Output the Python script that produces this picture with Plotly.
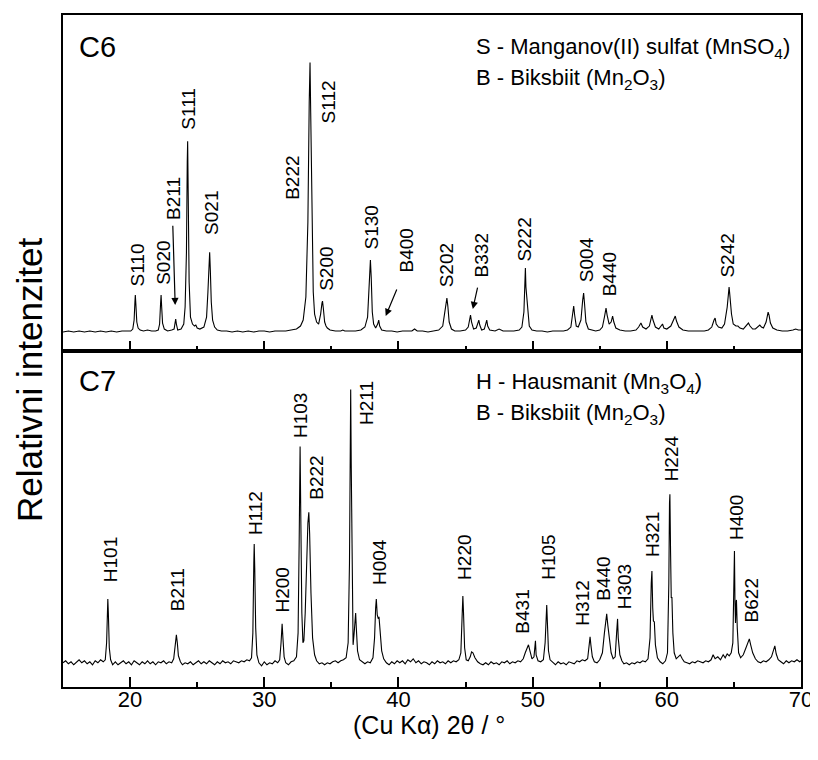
import plotly.graph_objects as go
from plotly.subplots import make_subplots

# ---------------- data (2theta in degrees, intensity in relative units above baseline) -------------
c6_profile = [
    (15.0, 0), (15.4, 1), (15.8, 0), (16.2, 1), (16.6, 0), (17.0, 1), (17.4, 0), (17.8, 1), (18.2, 0),
    (18.6, 1), (19.0, 0), (19.4, 1), (19.8, 1), (20.05, 1),
    (20.2, 3), (20.3, 12), (20.36, 30), (20.39, 37), (20.43, 28), (20.5, 10), (20.6, 4), (20.75, 2),
    (21.0, 1), (21.3, 2), (21.6, 1), (21.9, 1), (22.1, 2),
    (22.2, 8), (22.27, 28), (22.31, 37), (22.35, 26), (22.42, 9), (22.55, 3), (22.8, 1), (23.1, 2), (23.28, 3),
    (23.35, 9), (23.40, 13), (23.45, 8), (23.55, 2), (23.8, 3), (24.0, 8),
    (24.1, 25), (24.2, 80), (24.26, 170), (24.29, 191), (24.33, 140), (24.4, 50), (24.5, 15), (24.65, 8),
    (24.8, 6), (24.9, 7), (25.0, 4), (25.2, 3), (25.5, 5), (25.7, 15),
    (25.8, 40), (25.88, 72), (25.93, 80), (25.98, 62), (26.05, 30), (26.15, 12), (26.3, 5), (26.5, 2),
    (26.8, 1), (27.2, 1), (27.6, 0), (28.0, 1), (28.4, 0), (28.8, 1), (29.2, 0), (29.6, 1), (30.0, 1),
    (30.4, 0), (30.8, 1), (31.2, 1), (31.6, 1), (32.0, 2), (32.4, 3), (32.7, 6), (32.9, 12),
    (33.1, 35), (33.25, 110), (33.35, 230), (33.41, 270), (33.46, 220), (33.55, 110), (33.65, 40),
    (33.75, 18), (33.9, 10), (34.05, 8), (34.2, 18), (34.3, 29), (34.34, 31), (34.4, 24), (34.5, 10),
    (34.6, 6), (34.7, 4), (34.9, 2), (35.3, 1), (35.7, 1), (35.85, 2), (36.0, 1), (36.4, 1), (36.8, 1),
    (37.2, 2), (37.5, 5), (37.7, 15), (37.82, 45), (37.91, 72), (37.97, 55), (38.05, 20), (38.15, 8),
    (38.3, 4), (38.45, 8), (38.53, 12), (38.6, 6), (38.75, 2), (39.1, 1), (39.5, 1), (39.9, 0), (40.3, 1),
    (40.7, 1), (41.0, 1), (41.2, 3), (41.4, 1), (41.8, 1), (42.2, 0), (42.6, 1), (43.0, 2), (43.3, 6),
    (43.5, 22), (43.61, 34), (43.68, 26), (43.78, 10), (43.95, 3), (44.2, 1), (44.6, 1), (45.0, 2),
    (45.2, 5), (45.32, 14), (45.37, 17), (45.45, 10), (45.6, 3), (45.8, 4), (45.93, 10), (45.99, 12),
    (46.06, 7), (46.2, 2), (46.4, 3), (46.52, 9), (46.58, 12), (46.65, 6), (46.8, 2), (47.2, 1), (47.5, 3),
    (47.8, 1), (48.2, 1), (48.6, 1), (49.0, 2), (49.2, 5), (49.35, 20), (49.43, 55), (49.46, 64),
    (49.5, 45), (49.55, 35), (49.58, 37), (49.63, 20), (49.75, 6), (49.95, 2), (50.3, 1), (50.7, 1),
    (51.1, 0), (51.5, 1), (51.9, 1), (52.3, 1), (52.6, 2), (52.85, 5), (52.98, 18), (53.06, 26),
    (53.13, 17), (53.25, 6), (53.4, 5), (53.6, 12), (53.73, 32), (53.80, 39), (53.87, 28), (53.97, 10),
    (54.15, 3), (54.4, 2), (54.7, 1), (55.0, 2), (55.2, 5), (55.35, 15), (55.47, 24), (55.55, 17),
    (55.7, 8), (55.85, 10), (55.96, 16), (56.05, 10), (56.2, 4), (56.5, 2), (56.9, 1), (57.3, 1),
    (57.7, 2), (57.9, 5), (58.07, 9), (58.2, 5), (58.45, 3), (58.7, 6), (58.82, 14), (58.89, 17),
    (58.97, 12), (59.15, 5), (59.4, 3), (59.6, 6), (59.68, 8), (59.78, 4), (60.0, 3), (60.3, 6),
    (60.5, 12), (60.63, 16), (60.72, 11), (60.9, 5), (61.2, 2), (61.6, 1), (62.0, 1), (62.4, 1),
    (62.8, 1), (63.1, 2), (63.35, 5), (63.52, 12), (63.60, 14), (63.68, 8), (63.85, 5), (64.1, 4),
    (64.3, 8), (64.5, 25), (64.6, 42), (64.64, 45), (64.69, 38), (64.75, 28), (64.82, 18), (64.95, 8),
    (65.15, 6), (65.3, 6), (65.45, 4), (65.7, 3), (65.9, 6), (66.08, 9), (66.2, 6), (66.4, 3), (66.6, 3),
    (66.8, 5), (66.93, 7), (67.05, 5), (67.2, 4), (67.4, 10), (67.55, 20), (67.62, 17), (67.72, 9),
    (67.9, 4), (68.2, 2), (68.6, 1), (69.0, 1), (69.4, 2), (69.6, 3), (69.8, 2), (70.0, 2),
]

c7_profile = [
    (15.0, 0), (15.2, 2), (15.4, -1), (15.6, 1), (15.8, -2), (16.0, 1), (16.2, 3), (16.4, 0), (16.6, 2),
    (16.8, -1), (17.0, 1), (17.2, -2), (17.4, 2), (17.6, 0), (17.8, 3), (18.0, 1), (18.15, 3),
    (18.25, 20), (18.31, 55), (18.34, 64), (18.38, 50), (18.45, 15), (18.55, 3), (18.7, -2), (18.9, 1),
    (19.1, -2), (19.3, 0), (19.5, 2), (19.7, -1), (19.9, 1), (20.1, -2), (20.3, 2), (20.5, 0), (20.7, -2),
    (20.9, 1), (21.1, -1), (21.3, 2), (21.5, -1), (21.7, 1), (21.9, -2), (22.1, 1), (22.3, 0), (22.5, 2),
    (22.7, -1), (22.9, 1), (23.1, 0), (23.25, 4), (23.35, 15), (23.45, 28), (23.52, 20), (23.6, 7),
    (23.75, 1), (23.9, -2), (24.1, 0), (24.3, -1), (24.5, 1), (24.7, -2), (24.9, 0), (25.1, 2),
    (25.3, -1), (25.5, 1), (25.7, -1), (25.9, 2), (26.1, 0), (26.3, -2), (26.5, 1), (26.7, -1),
    (26.9, 2), (27.1, 0), (27.3, 1), (27.5, -1), (27.7, 2), (27.9, 1), (28.1, 0), (28.3, 2), (28.5, 1),
    (28.7, 3), (28.9, 2), (29.05, 5), (29.15, 30), (29.22, 100), (29.25, 119), (29.29, 95), (29.36, 35),
    (29.45, 8), (29.6, 0), (29.8, -3), (30.0, 1), (30.2, -2), (30.4, 0), (30.6, -1), (30.8, 2), (31.0, 0),
    (31.15, 3), (31.25, 20), (31.33, 39), (31.39, 25), (31.48, 6), (31.6, 0), (31.8, -2), (32.0, 1),
    (32.2, 2), (32.4, 6), (32.52, 30), (32.6, 120), (32.65, 205), (32.67, 217), (32.72, 150), (32.8, 50),
    (32.88, 20), (32.95, 22), (33.05, 50), (33.15, 100), (33.25, 140), (33.32, 151), (33.38, 130),
    (33.48, 70), (33.6, 25), (33.75, 8), (33.9, 2), (34.1, -1), (34.3, 0), (34.5, -2), (34.7, 0),
    (34.9, -1), (35.1, 1), (35.3, 2), (35.5, 0), (35.7, 2), (35.9, 3), (36.1, 5), (36.25, 20),
    (36.35, 100), (36.41, 250), (36.44, 274), (36.48, 200), (36.55, 60), (36.62, 18), (36.7, 30),
    (36.77, 48), (36.81, 50), (36.86, 35), (36.95, 12), (37.1, 3), (37.3, 1), (37.5, -1), (37.7, 1),
    (37.9, 0), (38.1, 5), (38.22, 25), (38.3, 55), (38.35, 64), (38.42, 48), (38.5, 44), (38.55, 46),
    (38.62, 30), (38.75, 12), (38.9, 4), (39.1, 0), (39.3, -2), (39.5, 1), (39.7, -1), (39.9, 2),
    (40.1, 0), (40.3, 2), (40.5, -1), (40.7, 3), (40.9, 1), (41.1, 4), (41.3, 0), (41.5, 2), (41.7, -1),
    (41.9, 1), (42.1, 0), (42.3, -2), (42.5, 1), (42.7, -1), (42.9, 2), (43.1, 0), (43.3, 1), (43.5, -1),
    (43.7, 2), (43.9, 0), (44.1, 2), (44.3, 1), (44.5, 3), (44.65, 10), (44.74, 45), (44.80, 67),
    (44.85, 50), (44.93, 15), (45.05, 3), (45.2, 2), (45.35, 6), (45.45, 11), (45.55, 10), (45.7, 5),
    (45.9, 1), (46.1, -1), (46.3, -2), (46.5, 0), (46.7, -2), (46.9, 1), (47.1, -1), (47.3, 0),
    (47.5, -2), (47.7, 1), (47.9, 0), (48.1, 2), (48.3, -1), (48.5, 1), (48.7, 0), (48.9, 2), (49.1, 1),
    (49.3, 4), (49.45, 10), (49.6, 16), (49.69, 18), (49.8, 12), (49.95, 4), (50.1, 6), (50.18, 20),
    (50.21, 22), (50.26, 8), (50.4, 2), (50.6, 1), (50.8, 3), (50.93, 20), (51.0, 50), (51.05, 58),
    (51.1, 40), (51.18, 12), (51.3, 3), (51.5, 0), (51.7, -2), (51.9, 1), (52.1, -1), (52.3, 0),
    (52.5, -2), (52.7, 1), (52.9, 0), (53.1, -1), (53.3, 2), (53.5, 1), (53.7, 3), (53.9, 2), (54.1, 4),
    (54.2, 15), (54.28, 26), (54.34, 18), (54.45, 6), (54.6, 1), (54.8, 0), (55.0, 3), (55.2, 10),
    (55.35, 30), (55.45, 45), (55.52, 49), (55.6, 38), (55.72, 22), (55.85, 10), (56.0, 4), (56.15, 6),
    (56.26, 30), (56.33, 44), (56.38, 25), (56.42, 20), (56.5, 8), (56.65, 2), (56.8, -1), (57.0, 0),
    (57.2, -2), (57.4, 0), (57.6, -1), (57.8, 1), (58.0, 0), (58.2, 2), (58.4, 1), (58.6, 4),
    (58.75, 25), (58.84, 80), (58.89, 92), (58.95, 55), (59.0, 42), (59.07, 41), (59.15, 18), (59.3, 5),
    (59.5, 1), (59.7, -1), (59.9, 2), (60.05, 10), (60.15, 80), (60.2, 160), (60.23, 169), (60.28, 110),
    (60.33, 65), (60.38, 66), (60.45, 30), (60.55, 10), (60.7, 4), (60.85, 6), (61.0, 8), (61.15, 4),
    (61.3, 1), (61.5, 0), (61.7, -1), (61.9, 1), (62.1, 0), (62.3, 2), (62.5, 1), (62.7, 0), (62.9, 2),
    (63.1, 1), (63.3, 3), (63.45, 8), (63.6, 4), (63.8, 6), (64.0, 3), (64.2, 8), (64.35, 5), (64.5, 9),
    (64.65, 7), (64.8, 10), (64.92, 20), (64.98, 80), (65.02, 110), (65.04, 112), (65.08, 60),
    (65.12, 40), (65.17, 62), (65.19, 63), (65.25, 35), (65.35, 10), (65.5, 5), (65.7, 8), (65.9, 15),
    (66.05, 20), (66.15, 24), (66.25, 18), (66.4, 10), (66.6, 4), (66.8, 1), (67.0, 0), (67.2, 2),
    (67.4, 1), (67.6, 3), (67.8, 6), (67.95, 12), (68.05, 17), (68.15, 9), (68.3, 3), (68.5, 1),
    (68.7, -1), (68.9, 2), (69.1, 0), (69.3, 2), (69.5, 1), (69.7, 3), (69.9, 1), (70.0, 2),
]

c6_two_theta = [p[0] for p in c6_profile]
c6_intensity = [p[1] for p in c6_profile]
c7_two_theta = [p[0] for p in c7_profile]
c7_intensity = [p[1] for p in c7_profile]

# peak labels
c6_labels = ["S110", "S020", "B211", "S111", "S021", "B222", "S112", "S200", "S130", "B400",
             "S202", "B332", "S222", "S004", "B440", "S242"]
c6_label_2theta = [20.54, 22.43, 23.18, 24.34, 26.08, 32.11, 34.75, 34.58, 37.98, 40.59,
                   43.56, 46.17, 49.39, 53.98, 55.71, 64.52]
c6_label_level = [67, 69, 134, 224, 119, 154, 230, 63, 105, 82, 67, 77, 93, 72, 58, 77]

c7_labels = ["H101", "B211", "H112", "H200", "H103", "B222", "H211", "H004", "H220", "B431",
             "H105", "H312", "B440", "H303", "H321", "H224", "H400", "B622"]
c7_label_2theta = [18.51, 23.59, 29.30, 31.36, 32.70, 33.89, 37.61, 38.55, 44.87, 49.26,
                   51.12, 53.73, 55.22, 56.83, 58.89, 60.31, 65.14, 66.38]
c7_label_level = [103, 73, 150, 73, 248, 186, 261, 101, 106, 51, 106, 60, 84, 76, 129, 205, 146, 63]

# arrows in C6 panel: (tail 2theta, tail level, head 2theta, head level)
c6_arrows = [(23.18, 108, 23.36, 27), (39.92, 44, 39.05, 16), (45.92, 46, 45.54, 23)]

c6_legend = ["S - Manganov(II) sulfat (MnSO<sub>4</sub>)", "B - Biksbiit (Mn<sub>2</sub>O<sub>3</sub>)"]
c7_legend = ["H - Hausmanit (Mn<sub>3</sub>O<sub>4</sub>)", "B - Biksbiit (Mn<sub>2</sub>O<sub>3</sub>)"]
x_ticks = [20, 30, 40, 50, 60, 70]

# ---------------- figure ----------------
FONT = "Arial, Liberation Sans, Helvetica, sans-serif"
fig = make_subplots(rows=2, cols=1, shared_xaxes=True, vertical_spacing=0)

fig.add_trace(go.Scatter(x=c6_two_theta, y=c6_intensity, mode="lines",
                         line=dict(color="black", width=1.1), showlegend=False), row=1, col=1)
fig.add_trace(go.Scatter(x=c7_two_theta, y=c7_intensity, mode="lines",
                         line=dict(color="black", width=1.1), showlegend=False), row=2, col=1)

xcommon = dict(range=[15, 70], showline=True, linecolor="black", linewidth=1.5, mirror=True,
               ticks="inside", ticklen=10, tickwidth=1.5, tickcolor="black",
               tickvals=x_ticks, showgrid=False, zeroline=False,
               minor=dict(ticks="inside", ticklen=5, tickwidth=1.5, tickcolor="black",
                          tickvals=[15, 25, 35, 45, 55, 65], showgrid=False))
fig.update_xaxes(**xcommon)
fig.update_xaxes(showticklabels=False, row=1, col=1)
fig.update_xaxes(showticklabels=True, tickfont=dict(family=FONT, size=22, color="black"),
                 ticktext=[str(v) for v in x_ticks], ticklabelstandoff=-8, row=2, col=1)

ycommon = dict(showline=True, linecolor="black", linewidth=1.5, mirror=True, ticks="",
               showticklabels=False, showgrid=False, zeroline=False)
fig.update_yaxes(**ycommon)
fig.update_yaxes(range=[-19, 317.5], domain=[0.5, 1.0], row=1, col=1)
fig.update_yaxes(range=[-24.3, 312.7], domain=[0.0, 0.5], row=2, col=1)

ann = []
for lab, xv, yv in zip(c6_labels, c6_label_2theta, c6_label_level):
    ann.append(dict(x=xv, y=yv, xref="x", yref="y", text=lab, textangle=-90, showarrow=False,
                    xanchor="center", yanchor="middle", font=dict(family=FONT, size=19, color="black")))
for lab, xv, yv in zip(c7_labels, c7_label_2theta, c7_label_level):
    ann.append(dict(x=xv, y=yv, xref="x2", yref="y2", text=lab, textangle=-90, showarrow=False,
                    xanchor="center", yanchor="middle", font=dict(family=FONT, size=19, color="black")))
for tx, ty, hx, hy in c6_arrows:
    ann.append(dict(x=hx, y=hy, ax=tx, ay=ty, xref="x", yref="y", axref="x", ayref="y", text="",
                    showarrow=True, arrowhead=2, arrowsize=1.2, arrowwidth=1.2, arrowcolor="black"))

ann.append(dict(x=0.019, y=0.9525, xref="paper", yref="paper", text="C6", showarrow=False,
                xanchor="left", yanchor="middle", font=dict(family=FONT, size=29, color="black")))
ann.append(dict(x=0.019, y=0.4555, xref="paper", yref="paper", text="C7", showarrow=False,
                xanchor="left", yanchor="middle", font=dict(family=FONT, size=29, color="black")))
for i, t in enumerate(c6_legend):
    ann.append(dict(x=0.5575, y=[0.951, 0.905][i], xref="paper", yref="paper", text=t, showarrow=False,
                    xanchor="left", yanchor="middle", font=dict(family=FONT, size=22, color="black")))
for i, t in enumerate(c7_legend):
    ann.append(dict(x=0.5575, y=[0.452, 0.406][i], xref="paper", yref="paper", text=t, showarrow=False,
                    xanchor="left", yanchor="middle", font=dict(family=FONT, size=22, color="black")))

ann.append(dict(x=-0.0447, y=0.457, xref="paper", yref="paper", text="Relativni intenzitet",
                textangle=-90, showarrow=False, xanchor="center", yanchor="middle",
                font=dict(family=FONT, size=35, color="black")))
ann.append(dict(x=0.4966, y=-0.057, xref="paper", yref="paper", text="(Cu Kα) 2θ / °",
                showarrow=False, xanchor="center", yanchor="middle",
                font=dict(family=FONT, size=25, color="black")))

# page body has an 8 px margin, so the figure is sized/offset to land the plot frame at the target pixels
fig.update_layout(width=810, height=744, margin=dict(l=55, r=16, t=5, b=65),
                  plot_bgcolor="white", paper_bgcolor="white", annotations=ann, showlegend=False)

fig.write_html("out.html")
